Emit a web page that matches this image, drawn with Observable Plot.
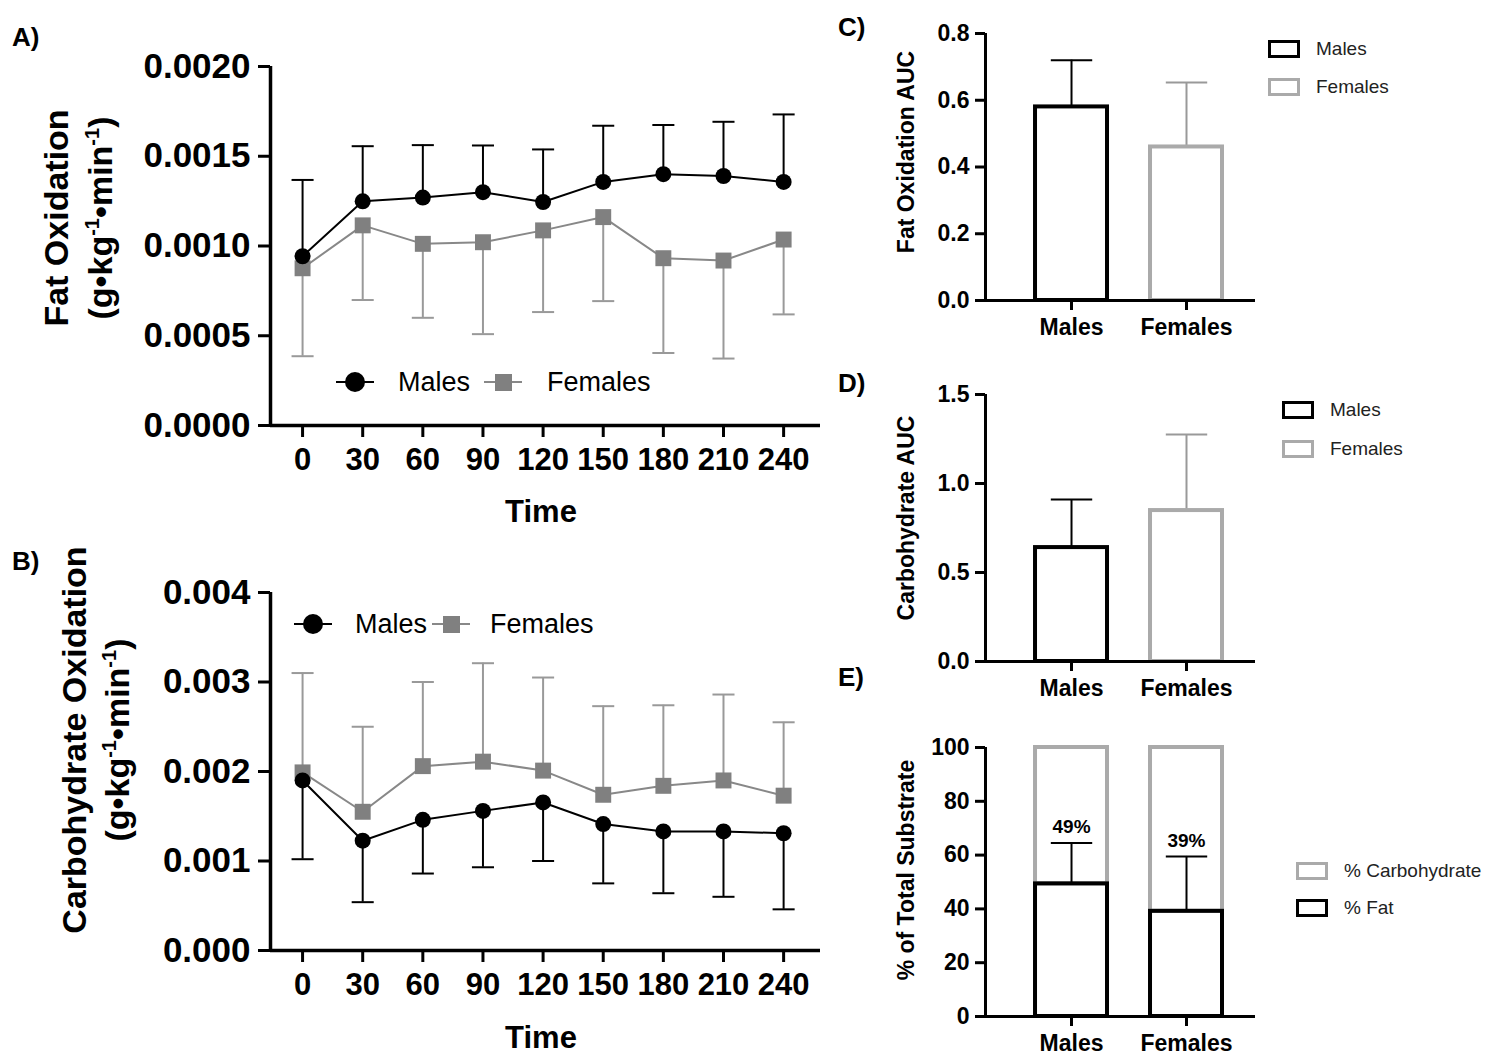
<!DOCTYPE html>
<html><head><meta charset="utf-8">
<script src="https://cdn.jsdelivr.net/npm/d3@7"></script>
<script src="https://cdn.jsdelivr.net/npm/@observablehq/plot@0.6"></script>
<style>
body{margin:0;background:#fff;font-family:"Liberation Sans",Arial,sans-serif}
#root{position:relative;width:1500px;height:1064px;overflow:hidden}
.p{position:absolute;left:0;top:0}
.t{position:absolute;white-space:nowrap;color:#000}
.b{font-weight:bold}
.rot{transform:translate(-50%,-50%) rotate(-90deg);text-align:center}
.lg{position:absolute;font-size:19px;color:#222}
.box{position:absolute;width:26px;height:12px;border:3.5px solid #000;background:#fff}
</style></head><body><div id="root"></div>
<script>
const times = [0,30,60,90,120,150,180,210,240];
// Panel A: fat oxidation (g/kg/min)
const fatMales = [0.000943,0.001249,0.00127,0.0013,0.001245,0.001357,0.0014,0.00139,0.001357];
const fatMalesUpper = [0.001368,0.001556,0.001562,0.00156,0.001538,0.00167,0.001674,0.001692,0.001733];
const fatFemales = [0.000876,0.001115,0.001012,0.001021,0.001087,0.001161,0.000932,0.000919,0.001036];
const fatFemalesLower = [0.000386,0.000699,0.0006,0.000509,0.000632,0.000693,0.000404,0.000373,0.000619];
// Panel B: carbohydrate oxidation
const choMales = [0.0019,0.001227,0.00146,0.00156,0.001654,0.001413,0.00133,0.00133,0.00131];
const choMalesLower = [0.00102,0.00054,0.00086,0.00093,0.001,0.00075,0.00064,0.0006,0.00046];
const choFemales = [0.00199,0.00155,0.00206,0.00211,0.00201,0.00174,0.00184,0.0019,0.00173];
const choFemalesUpper = [0.0031,0.0025,0.003,0.00321,0.00305,0.00273,0.00274,0.00286,0.00255];
// Bar panels
const sexes = ["Males","Females"];
const fatAUC = [0.58,0.46], fatAUCUpper = [0.72,0.653];
const choAUC = [0.64,0.848], choAUCUpper = [0.91,1.275];
const pctFat = [49.3,39.1], pctFatUpper = [64.5,59.5], pctTotal = [100,100];
const pctLabels = ["49%","39%"];

const root = document.getElementById("root");
const FONT = '"Liberation Sans", Arial, sans-serif';
function add(svg, left, top){svg.classList.add("p");svg.style.left=left+"px";svg.style.top=top+"px";root.appendChild(svg);}
function txt(html, x, y, cls, style){const d=document.createElement("div");d.className="t "+(cls||"");d.innerHTML=html;d.style.left=x+"px";d.style.top=y+"px";Object.assign(d.style,style||{});root.appendChild(d);return d;}

const X0 = -16, X1 = 258.4;
function linePanel(top, h, mTop, yMax, yTicks, fmt, M, Mbar, F, Fbar){
  const rows = times.map((t,i)=>({t, m:M[i], mb:Mbar[i], f:F[i], fb:Fbar[i]}));
  const capW = 5.5;
  return Plot.plot({
    width:830, height:h, marginLeft:270, marginRight:10, marginTop:mTop, marginBottom:h-mTop-(h===540?359:358),
    style:{fontFamily:FONT, fontWeight:"bold", background:"transparent", overflow:"visible"},
    x:{domain:[X0,X1]}, y:{domain:[0,yMax]},
    marks:[
      Plot.ruleX(rows,{x:"t", y1:"f", y2:"fb", stroke:"#999", strokeWidth:2}),
      Plot.link(rows,{x1:d=>d.t-capW, x2:d=>d.t+capW, y1:"fb", y2:"fb", stroke:"#999", strokeWidth:2}),
      Plot.ruleX(rows,{x:"t", y1:"m", y2:"mb", stroke:"#000", strokeWidth:2}),
      Plot.link(rows,{x1:d=>d.t-capW, x2:d=>d.t+capW, y1:"mb", y2:"mb", stroke:"#000", strokeWidth:2}),
      Plot.line(rows,{x:"t", y:"f", stroke:"#888", strokeWidth:2}),
      Plot.dot(rows,{x:"t", y:"f", symbol:"square", r:9, fill:"#808080"}),
      Plot.line(rows,{x:"t", y:"m", stroke:"#000", strokeWidth:2}),
      Plot.dot(rows,{x:"t", y:"m", r:8, fill:"#000"}),
      Plot.ruleX([X0],{y1:0, y2:yMax, strokeWidth:3.5}),
      Plot.ruleY([0],{x1:X0, x2:X1, strokeWidth:3.5}),
      Plot.axisY({ticks:yTicks, tickFormat:fmt, tickSize:12, tickPadding:8, strokeWidth:3, fontSize:35, label:null}),
      Plot.axisX({ticks:times, tickSize:12, tickPadding:10, strokeWidth:3, fontSize:31, label:null})
    ]
  });
}
add(linePanel(0,540,66,0.002,[0,0.0005,0.001,0.0015,0.002],d3.format(".4f"),fatMales,fatMalesUpper,fatFemales,fatFemalesLower),0,0);
add(linePanel(530,534,62,0.004,[0,0.001,0.002,0.003,0.004],d3.format(".3f"),choMales,choMalesLower,choFemales,choFemalesUpper),0,530);

function barPanel(top, h, mTop, yMax, yTicks, fmt, vals, upper, strokes, errStrokes, stacked){
  const rows = sexes.map((s,i)=>({i, v:vals[i], u:upper[i], tot:stacked?stacked[i]:null}));
  const hw = 0.313;
  const marks = [];
  if(stacked) marks.push(Plot.rectY(rows,{x1:d=>d.i-hw, x2:d=>d.i+hw, y1:"v", y2:"tot", fill:"#fff", stroke:"#aaa", strokeWidth:4}));
  marks.push(
    Plot.ruleX(rows,{x:"i", y1:"v", y2:"u", stroke:(d)=>errStrokes[d.i], strokeWidth:2}),
    Plot.link(rows,{x1:d=>d.i-0.18, x2:d=>d.i+0.18, y1:"u", y2:"u", stroke:(d)=>errStrokes[d.i], strokeWidth:2}),
    Plot.rectY(rows,{x1:d=>d.i-hw, x2:d=>d.i+hw, y1:0, y2:"v", fill:"#fff", fillOpacity:0, stroke:(d)=>strokes[d.i], strokeWidth:4}),
    Plot.ruleX([-0.748],{y1:0,y2:yMax,strokeWidth:3}),
    Plot.ruleY([0],{x1:-0.748,x2:1.6,strokeWidth:3}),
    Plot.axisY({ticks:yTicks, tickFormat:fmt, tickSize:10, tickPadding:6, strokeWidth:3, fontSize:23, label:null}),
    Plot.axisX({ticks:[0,1], tickFormat:i=>sexes[i], tickSize:10, tickPadding:8, strokeWidth:3, fontSize:23, label:null})
  );
  if(stacked) marks.push(Plot.text(rows,{x:"i", y:"u", text:d=>pctLabels[d.i], dy:-16, fontSize:19, fontWeight:"bold"}));
  return Plot.plot({
    width:420, height:h, marginLeft:145, marginRight:5, marginTop:mTop, marginBottom:h-mTop-(stacked?269:267),
    style:{fontFamily:FONT, fontWeight:"bold", background:"transparent", overflow:"visible"},
    x:{type:"linear", domain:[-0.748,1.6]}, y:{domain:[0,yMax]}, color:{type:"identity"},
    marks
  });
}
add(barPanel(0,360,33,0.8,[0,0.2,0.4,0.6,0.8],d3.format(".1f"),fatAUC,fatAUCUpper,["#000","#aaa"],["#000","#999"]),840,0);
add(barPanel(360,360,34,1.5,[0,0.5,1,1.5],d3.format(".1f"),choAUC,choAUCUpper,["#000","#aaa"],["#000","#999"]),840,360);
add(barPanel(720,344,27,100,[0,20,40,60,80,100],d3.format("d"),pctFat,pctFatUpper,["#000","#000"],["#000","#000"],pctTotal),840,720);

// Panel letters
const L={fontSize:"26px"};
txt("A)",12,22,"b",L); txt("B)",12,546,"b",L); txt("C)",838,12,"b",L); txt("D)",838,368,"b",L); txt("E)",838,662,"b",L);
// Axis titles
const T={fontSize:"34px"};
const sup="<sup style='font-size:20px'>-1</sup>";
txt("Fat Oxidation",56,218,"b rot",T);
txt("(g•kg"+sup+"•min"+sup+")",100,218,"b rot",T);
txt("Carbohydrate Oxidation",74,740,"b rot",T);
txt("(g•kg"+sup+"•min"+sup+")",117,740,"b rot",T);
txt("Time",541,512,"b",{fontSize:"31px",transform:"translate(-50%,-50%)"});
txt("Time",541,1038,"b",{fontSize:"31px",transform:"translate(-50%,-50%)"});
const S={fontSize:"23px"};
txt("Fat Oxidation AUC",906,152,"b rot",S);
txt("Carbohydrate AUC",906,518,"b rot",S);
txt("% of Total Substrate",906,870,"b rot",S);
// Line legends
function lineLegend(x,y){
  const s=`<svg width="340" height="30" style="overflow:visible"><line x1="0" y1="15" x2="38" y2="15" stroke="#000" stroke-width="2"/><circle cx="19" cy="15" r="10" fill="#000"/>
  <line x1="${x.g}" y1="15" x2="${x.g+38}" y2="15" stroke="#888" stroke-width="2"/><rect x="${x.g+11}" y="7" width="17" height="17" fill="#808080"/></svg>`;
  txt(s,x.x,y,"",{});
  txt("Males",x.x+x.m,y+15,"",{fontSize:"27px",transform:"translateY(-50%)"});
  txt("Females",x.x+x.f,y+15,"",{fontSize:"27px",transform:"translateY(-50%)"});
}
lineLegend({x:336,g:148,m:62,f:211},367);
lineLegend({x:294,g:138,m:61,f:196},609);
// Bar legends
function boxLegend(x,y,label,color){const b=document.createElement("div");b.className="box";b.style.left=x+"px";b.style.top=(y-9)+"px";b.style.borderColor=color;root.appendChild(b);txt(label,x+48,y,"lg",{transform:"translateY(-50%)"});}
boxLegend(1268,49,"Males","#000"); boxLegend(1268,87,"Females","#aaa");
boxLegend(1282,410,"Males","#000"); boxLegend(1282,449,"Females","#aaa");
boxLegend(1296,871,"% Carbohydrate","#aaa"); boxLegend(1296,908,"% Fat","#000");
</script></body></html>
